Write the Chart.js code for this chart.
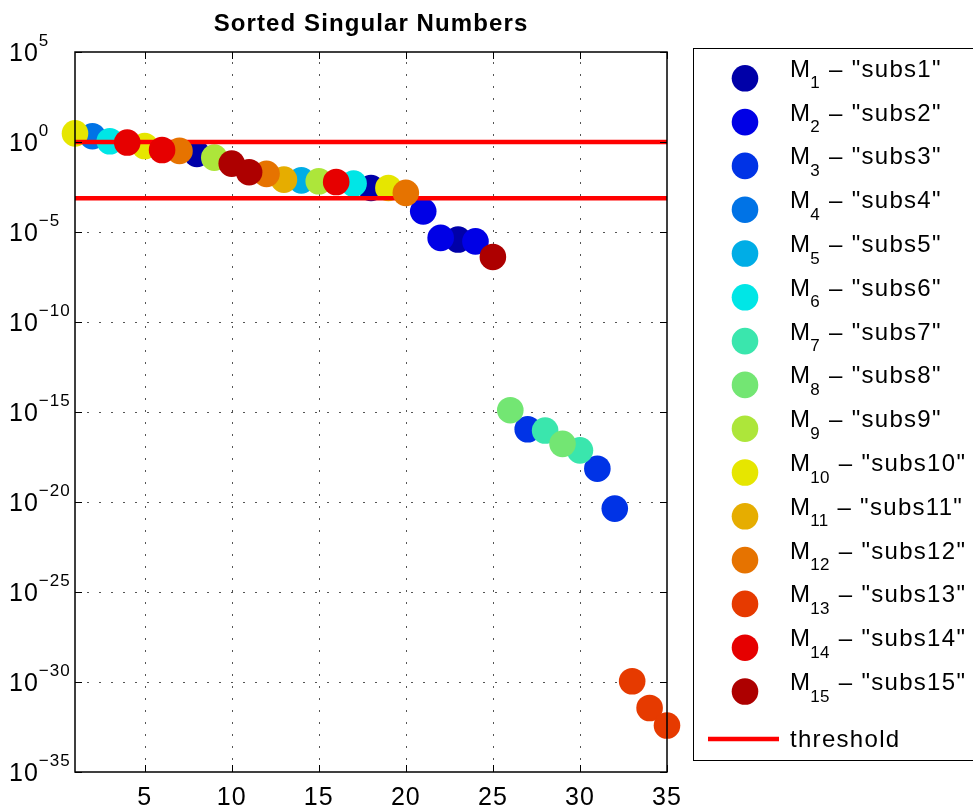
<!DOCTYPE html>
<html>
<head>
<meta charset="utf-8">
<title>Sorted Singular Numbers</title>
<script src="https://cdn.jsdelivr.net/npm/chart.js@4.4.0/dist/chart.umd.min.js"></script>
<style>
  html, body { margin: 0; padding: 0; background: #fff; }
  #wrap { width: 973px; height: 807px; }
</style>
</head>
<body>
<div id="wrap"><canvas id="singChart" width="973" height="807"></canvas></div>
<script>
// singular values, sorted descending (rank 1..35)
const sortedValues = [
  3.0, 2.1, 1.1, 0.93, 0.6, 0.36, 0.32, 0.22, 0.135, 0.063,
  0.021, 0.017, 0.0081, 0.0074, 0.0066, 0.006, 0.0049, 0.0028, 0.0028, 0.0015,
  1.4e-4, 4.7e-6, 3.8e-6, 3.0e-6, 4.1e-7, 1.26e-15, 1.1e-16, 9.3e-17, 1.7e-17, 7.4e-18,
  7.1e-19, 4.3e-21, 1.1e-30, 3.6e-32, 3.8e-33
];
// index k of the matrix M_k each value comes from
const sourceMatrix = [
  10, 4, 6, 14, 10, 14, 12, 1, 9, 15,
  15, 12, 11, 5, 9, 14, 6, 1, 10, 12,
  2, 2, 1, 2, 15, 8, 3, 7, 8, 7,
  3, 3, 13, 13, 13
];
const subsNames = ["subs1", "subs2", "subs3", "subs4", "subs5", "subs6", "subs7", "subs8",
  "subs9", "subs10", "subs11", "subs12", "subs13", "subs14", "subs15"];
const thresholds = [1, 7.6e-4];
const xTickValues = [5, 10, 15, 20, 25, 30, 35];
const yTickExponents = [5, 0, -5, -10, -15, -20, -25, -30, -35];

// jet(15), slightly darkened
const jetColors = ["#0000a8", "#0000e6", "#0033e6", "#0073e6", "#00ade6", "#00e6e6", "#3ae6ad",
  "#73e673", "#ade63a", "#e6e600", "#e6ad00", "#e67300", "#e63a00", "#e60000", "#ad0000"];

const FONT = '"Liberation Sans", Arial, Helvetica, sans-serif';

// draw order: M1..M11, then thresholds, then M12..M15 on top
const datasets = subsNames.map((name, k) => ({
  label: "M" + (k + 1) + " – \"" + name + "\"",
  data: sortedValues
    .map((v, i) => ({ x: i + 1, y: v }))
    .filter((p, i) => sourceMatrix[i] === k + 1),
  backgroundColor: jetColors[k],
  borderWidth: 0,
  pointBorderWidth: 0,
  pointRadius: 13.3,
  pointHoverRadius: 13.3,
  clip: false,
  order: 100 - (k < 11 ? k + 1 : k + 3)
}));
thresholds.forEach((t, j) => {
  datasets.push({
    type: "line",
    label: "threshold",
    data: [{ x: 1, y: t }, { x: 35, y: t }],
    borderColor: "#ff0000",
    borderWidth: 4.5,
    pointRadius: 0,
    clip: false,
    order: 100 - (12 + j)
  });
});

function textWithScript(ctx, x, y, base, script, baseSize, scriptSize, dy, spacing) {
  ctx.font = baseSize + "px " + FONT;
  ctx.letterSpacing = spacing + "px";
  ctx.fillText(base, x, y);
  const w = ctx.measureText(base).width;
  ctx.font = scriptSize + "px " + FONT;
  ctx.fillText(script, x + w, y + dy);
  return x + w + ctx.measureText(script).width;
}

const frame = {
  id: "frame",
  beforeDatasetsDraw(chart) {
    const { ctx, chartArea: a, scales: { x, y } } = chart;
    ctx.save();
    ctx.strokeStyle = "#555";
    ctx.lineWidth = 1;
    ctx.setLineDash([2, 10]);
    xTickValues.forEach(v => {
      const px = Math.round(x.getPixelForValue(v)) + 0.5;
      if (px > a.right - 2) return;
      ctx.beginPath();
      ctx.moveTo(px, a.bottom);
      ctx.lineTo(px, a.top);
      ctx.stroke();
    });
    yTickExponents.forEach(e => {
      const py = Math.round(y.getPixelForValue(Math.pow(10, e))) + 0.5;
      if (py < a.top + 2 || py > a.bottom - 2) return;
      ctx.beginPath();
      ctx.moveTo(a.left, py);
      ctx.lineTo(a.right, py);
      ctx.stroke();
    });
    ctx.restore();
  },
  afterDatasetsDraw(chart) {
    const { ctx, chartArea: a, scales: { x, y } } = chart;
    ctx.save();
    ctx.strokeStyle = "#000";
    ctx.lineWidth = 1.5;
    ctx.strokeRect(a.left, a.top, a.right - a.left, a.bottom - a.top);
    ctx.lineWidth = 1;
    const tl = 7;
    ctx.beginPath();
    xTickValues.forEach(v => {
      const px = Math.round(x.getPixelForValue(v)) + 0.5;
      ctx.moveTo(px, a.bottom); ctx.lineTo(px, a.bottom - tl);
      ctx.moveTo(px, a.top); ctx.lineTo(px, a.top + tl);
    });
    yTickExponents.forEach(e => {
      const py = Math.round(y.getPixelForValue(Math.pow(10, e))) + 0.5;
      ctx.moveTo(a.left, py); ctx.lineTo(a.left + tl, py);
      ctx.moveTo(a.right, py); ctx.lineTo(a.right - tl, py);
    });
    ctx.stroke();

    // tick labels
    ctx.fillStyle = "#000";
    ctx.textBaseline = "alphabetic";
    ctx.font = "25px " + FONT;
    ctx.letterSpacing = "1px";
    ctx.textAlign = "center";
    xTickValues.forEach(v => {
      ctx.fillText(String(v), x.getPixelForValue(v), 805);
    });
    ctx.textAlign = "left";
    yTickExponents.forEach(e => {
      const py = y.getPixelForValue(Math.pow(10, e));
      const exp = e < 0 ? "\u2212" + Math.abs(e) : String(e);
      textWithScript(ctx, 9, py + 9, "10", exp, 25, 17, -15.5, 1);
    });

    // title
    ctx.font = "bold 24px " + FONT;
    ctx.letterSpacing = "1.1px";
    const title = "Sorted Singular Numbers";
    const tw = ctx.measureText(title).width;
    ctx.fillText(title, (a.left + a.right) / 2 - tw / 2, 31);
    ctx.restore();
  },
  afterDraw(chart) {
    const { ctx } = chart;
    ctx.save();
    // legend box
    ctx.fillStyle = "#fff";
    ctx.fillRect(693, 48, 300, 712);
    ctx.strokeStyle = "#000";
    ctx.lineWidth = 1;
    ctx.strokeRect(693.5, 48.5, 300, 712);
    ctx.textAlign = "left";
    ctx.textBaseline = "alphabetic";
    subsNames.forEach((name, k) => {
      const yc = 78.3 + k * 43.8;
      ctx.fillStyle = jetColors[k];
      ctx.beginPath();
      ctx.arc(745, yc, 13.3, 0, Math.PI * 2);
      ctx.fill();
      ctx.fillStyle = "#000";
      const xe = textWithScript(ctx, 790, yc - 1.5, "M", String(k + 1), 24, 17, 11.5, 0.3);
      ctx.font = "24px " + FONT;
      ctx.letterSpacing = "1.3px";
      ctx.fillText(" \u2013 \"" + name + "\"", xe + 1, yc - 1.5);
    });
    const ty = 739;
    ctx.strokeStyle = "#ff0000";
    ctx.lineWidth = 4.5;
    ctx.beginPath();
    ctx.moveTo(708, ty);
    ctx.lineTo(779, ty);
    ctx.stroke();
    ctx.fillStyle = "#000";
    ctx.font = "24px " + FONT;
    ctx.letterSpacing = "1.3px";
    ctx.fillText("threshold", 790, ty + 8);
    ctx.restore();
  }
};

const ctx = document.getElementById("singChart").getContext("2d");
new Chart(ctx, {
  type: "scatter",
  data: { datasets: datasets },
  options: {
    responsive: false,
    animation: false,
    layout: { padding: { left: 75, top: 52, right: 306, bottom: 35 } },
    plugins: {
      legend: { display: false },
      title: { display: false },
      tooltip: { enabled: false }
    },
    events: [],
    scales: {
      x: {
        type: "linear",
        min: 1,
        max: 35,
        ticks: { display: false },
        grid: { display: false, drawTicks: false },
        border: { display: false },
        afterFit: s => { s.height = 0; }
      },
      y: {
        type: "logarithmic",
        min: 1e-35,
        max: 1e5,
        ticks: { display: false },
        grid: { display: false, drawTicks: false },
        border: { display: false },
        afterFit: s => { s.width = 0; }
      }
    }
  },
  plugins: [frame]
});
</script>
</body>
</html>
